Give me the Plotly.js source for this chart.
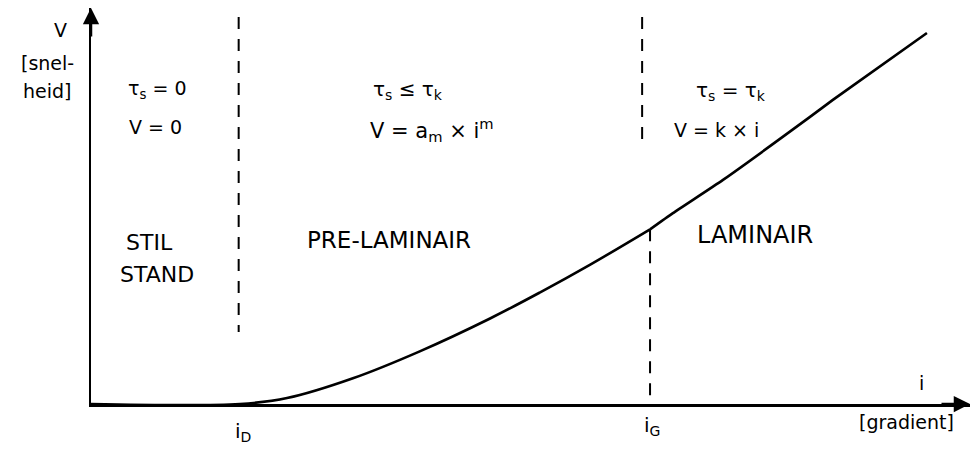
<!DOCTYPE html>
<html>
<head>
<meta charset="utf-8">
<script src="https://cdn.plot.ly/plotly-3.0.1.min.js"></script>
<style>
  html, body { margin: 0; padding: 0; background: #fff; }
  #chart { width: 975px; height: 450px; }
</style>
</head>
<body>
<div id="chart"></div>
<script>
// Flow regimes: velocity V against hydraulic gradient i (schematic units 0-100)

// Threshold gradients
const iD = 16.8;   // start of pre-laminar flow
const iG = 63.6;   // start of laminar flow

// Standstill + pre-laminar branch, V = a_m * i^m
const preI = [0, 16.95, 22.3, 29.8, 37.4, 45.4, 51.1, 56.8, 63.6];
const preV = [0, 0, 1.5, 6.5, 13.3, 21.6, 28.2, 35.2, 44.1];

// Laminar branch, V = k * i
const lamI = [63.6, 66.2, 71.9, 81.8, 84.4, 95.1];
const lamV = [44.1, 48.2, 56.6, 72.5, 76.8, 93.7];

// Dashed regime boundaries
const dashD_I = [iD, iD];
const dashD_V = [97.7, 18.2];
const dashGtop_I = [62.7, 62.7];
const dashGtop_V = [97.7, 64.9];
const dashGlow_I = [iG, iG];
const dashGlow_V = [44.1, 0];

const ink = '#000';
const font = 'DejaVu Sans, Liberation Sans, sans-serif';

const dashStyle = {color: ink, width: 2, dash: '12px,10px'};

const traces = [
  {x: preI, y: preV, mode: 'lines', line: {color: ink, width: 2.6, shape: 'spline', smoothing: 1}, cliponaxis: false, hoverinfo: 'skip'},
  {x: lamI, y: lamV, mode: 'lines', line: {color: ink, width: 2.6, shape: 'spline', smoothing: 0.5}, cliponaxis: false, hoverinfo: 'skip'},
  {x: dashD_I, y: dashD_V, mode: 'lines', line: dashStyle, hoverinfo: 'skip'},
  {x: dashGtop_I, y: dashGtop_V, mode: 'lines', line: dashStyle, hoverinfo: 'skip'},
  {x: dashGlow_I, y: dashGlow_V, mode: 'lines', line: dashStyle, cliponaxis: false, hoverinfo: 'skip'}
];

// Text placed in paper units (axes span 0-100, so paper = value / 100)
function label(x, y, text, size, anchor) {
  return {x: x / 100, y: y / 100, xref: 'paper', yref: 'paper', text: text, showarrow: false,
          xanchor: anchor || 'center', yanchor: 'middle',
          font: {family: font, size: size, color: ink}};
}

const annotations = [
  // axis arrowheads
  {x: 100, y: 0, xref: 'x', yref: 'y', ax: -30, ay: 0, axref: 'pixel', ayref: 'pixel',
   text: '', showarrow: true, arrowhead: 2, arrowsize: 1.3, arrowwidth: 2.5, arrowcolor: ink, standoff: 0},
  {x: 0, y: 100, xref: 'x', yref: 'y', ax: 0, ay: 30, axref: 'pixel', ayref: 'pixel',
   text: '', showarrow: true, arrowhead: 2, arrowsize: 1.3, arrowwidth: 2.5, arrowcolor: ink, standoff: 0},

  // axis names
  label(-3.5, 94.4, 'V', 19),
  label(-4.9, 86.1, '[snel-', 19),
  label(-5.0, 79.0, 'heid]', 19),
  label(94.5, 5.3, 'i', 19),
  label(92.8, -4.6, '[gradient]', 19),
  label(17.3, -7.1, 'i<sub>D</sub>', 20),
  label(63.8, -5.6, 'i<sub>G</sub>', 20),

  // regime conditions
  label(7.5, 79.5, 'τ<sub>s</sub> = 0', 19),
  label(7.3, 70.0, 'V = 0', 19),
  label(36.1, 79.3, 'τ<sub>s</sub> ≤ τ<sub>k</sub>', 20),
  label(38.8, 69.2, 'V = a<sub>m</sub> × i<sup>m</sup>', 21),
  label(72.8, 79.0, 'τ<sub>s</sub> = τ<sub>k</sub>', 20),
  label(71.2, 69.2, 'V = k × i', 19),

  // regime names
  label(3.7, 40.9, 'STIL', 22, 'left'),
  label(3.1, 32.6, 'STAND', 22, 'left'),
  label(24.4, 41.4, 'PRE-LAMINAIR', 23, 'left'),
  label(68.7, 42.7, 'LAMINAIR', 24, 'left')
];

const axisStyle = {
  showline: true, linecolor: ink, linewidth: 2.5,
  showgrid: false, zeroline: false, showticklabels: false, ticks: '',
  fixedrange: true
};

const layout = {
  width: 975, height: 450,
  margin: {l: 91, r: 5, t: 8, b: 46},
  paper_bgcolor: '#fff', plot_bgcolor: '#fff',
  showlegend: false,
  xaxis: Object.assign({range: [0, 100]}, axisStyle),
  yaxis: Object.assign({range: [0, 100]}, axisStyle),
  annotations: annotations
};

Plotly.newPlot('chart', traces, layout, {staticPlot: true, displayModeBar: false});
</script>
</body>
</html>
